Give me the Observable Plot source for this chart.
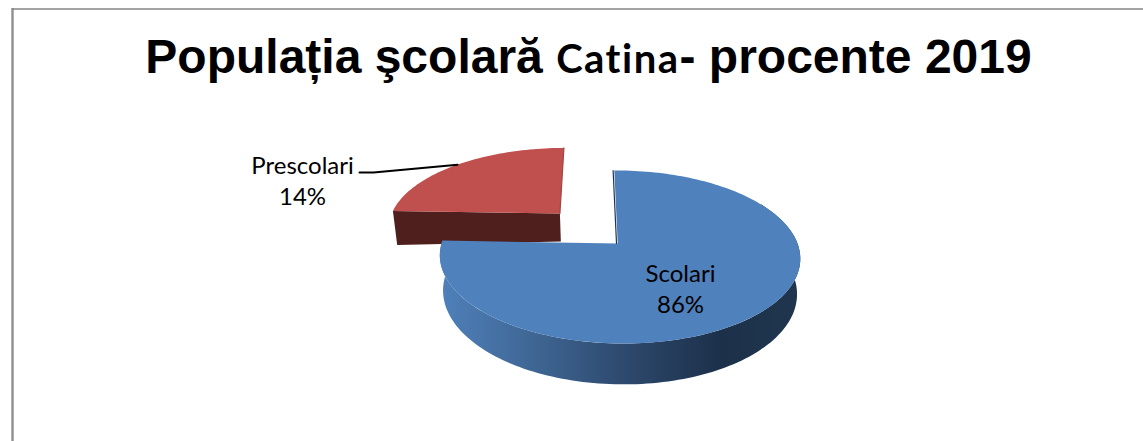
<!DOCTYPE html>
<html>
<head>
<meta charset="utf-8">
<script src="https://cdn.jsdelivr.net/npm/d3@7"></script>
<script src="https://cdn.jsdelivr.net/npm/@observablehq/plot@0.6"></script>
<style>
html,body{margin:0;padding:0;background:#fff;}
#wrap{position:relative;width:1143px;height:441px;overflow:hidden;}
#title{position:absolute;left:0;top:26px;width:1143px;text-align:center;white-space:nowrap;
 font:bold 48px/62px "Liberation Sans",Arial,sans-serif;color:#000;margin:0;transform:translateX(17px);}
#title .c{font:bold 40px/62px Lato,"Open Sans",sans-serif;letter-spacing:1.5px;}
</style>
</head>
<body>
<div id="wrap"><h1 id="title">Populația şcolară <span class="c">Catina</span>- procente 2019</h1></div>
<script>
// ---- chart content
const categories = ["Scolari", "Prescolari"];
const percentLabels = [86, 14];
// angular extent of each drawn slice (degrees clockwise from the back of the pie)
const sliceStart = [-0.8, -88];
const sliceEnd = [272, -0.3];

// ---- 3-D pie geometry
const W = 1143, H = 441;
const cx = 619, cy = 243, R = 178, persp = 0.156, depthA = 84.4, shear = 3.5, thick = 34.5, shrink = 0.018;
const explode = [[-0.01, 0, 0], [-0.347, 0.376, 1]];

function project(u, v, z) {
  const s = 1 / (1 + persp * v);
  return {
    x: cx + (R * u * s - shear * v * s) * (1 - shrink * z),
    y: cy - depthA * v * s + thick * z * s
  };
}
const rad = d => d * Math.PI / 180;
function rim(i, deg, z) {
  const [eu, ev, whole] = explode[i];
  const ou = whole ? eu : 0, ov = whole ? ev : 0;
  return project(ou + Math.sin(rad(deg)), ov + Math.cos(rad(deg)), z);
}
function apex(i, z) { return project(explode[i][0], explode[i][1], z); }
function arc(i, a, b, z) {
  const pts = [], n = Math.max(2, Math.ceil(Math.abs(b - a) / 1.5));
  for (let k = 0; k <= n; k++) pts.push(rim(i, a + (b - a) * k / n, z));
  return pts;
}
const topFace = i => [apex(i, 0), ...arc(i, sliceStart[i], sliceEnd[i], 0), apex(i, 0)];
const blue = 0, red = 1;
const blueSide = [...arc(blue, 60, sliceEnd[blue], 0), ...arc(blue, sliceEnd[blue], 60, 1)];
const redFront = [rim(red, sliceStart[red], 0), apex(red, 0), apex(red, 0.86), rim(red, sliceStart[red], 1.05)];
const redWall = [apex(red, 0), rim(red, sliceEnd[red], 0)];
const blueWall = [apex(blue, 0), rim(blue, sliceStart[blue], 0)].map(p => ({x: p.x - 1.2, y: p.y}));
const leaderEnd = rim(red, (sliceStart[red] + sliceEnd[red]) / 2, 0);
const leader = [{x: 359, y: 172}, {x: 373, y: 172}, leaderEnd];
const labels = [
  {x: 680, y: 287, text: `${categories[0]}\n${percentLabels[0]}%`},
  {x: 302, y: 179, text: `${categories[1]}\n${percentLabels[1]}%`}
];

const poly = (pts, fill) => Plot.line(pts, {x: "x", y: "y", fill, stroke: null, curve: "linear"});

const gradient = () => {
  const defs = d3.create("svg:defs");
  const g = defs.append("linearGradient").attr("id", "side3d")
    .attr("gradientUnits", "userSpaceOnUse").attr("x1", 441).attr("x2", 800).attr("y1", 0).attr("y2", 0);
  [[0, "#4f80ba"], [0.25, "#3f6795"], [0.5, "#2e4a6f"], [0.78, "#1c3049"], [1, "#20364f"]]
    .forEach(([o, c]) => g.append("stop").attr("offset", o).attr("stop-color", c));
  return defs.node();
};

const chart = Plot.plot({
  width: W, height: H, margin: 0,
  x: {domain: [0, W], range: [0, W], axis: null},
  y: {domain: [0, H], range: [0, H], axis: null},
  style: {background: "#fff"},
  marks: [
    gradient,
    Plot.ruleX([12], {y1: 8, y2: H, stroke: "#8f8f8f", strokeWidth: 2.4}),
    Plot.ruleY([8.5], {x1: 12, x2: W, stroke: "#858585", strokeWidth: 1.5}),
    poly(redFront, "#4f1f1d"),
    poly(topFace(red), "#c0504d"),
    Plot.line(redWall, {x: "x", y: "y", stroke: "#a54441", strokeWidth: 1.2}),
    Plot.line(leader, {x: "x", y: "y", stroke: "#000", strokeWidth: 2, curve: "linear"}),
    poly(blueSide, "url(#side3d)"),
    poly(topFace(blue), "#4f81bd"),
    Plot.line(blueWall, {x: "x", y: "y", stroke: "#1f3550", strokeWidth: 1.2}),
    Plot.text(labels, {x: "x", y: "y", text: "text", fontSize: 24, lineHeight: 1.3, lineAnchor: "middle",
      fontFamily: "Lato, 'Open Sans', sans-serif", fill: "#000", textAnchor: "middle"})
  ]
});
document.getElementById("wrap").prepend(chart);
chart.style.display = "block";
</script>
</body>
</html>
